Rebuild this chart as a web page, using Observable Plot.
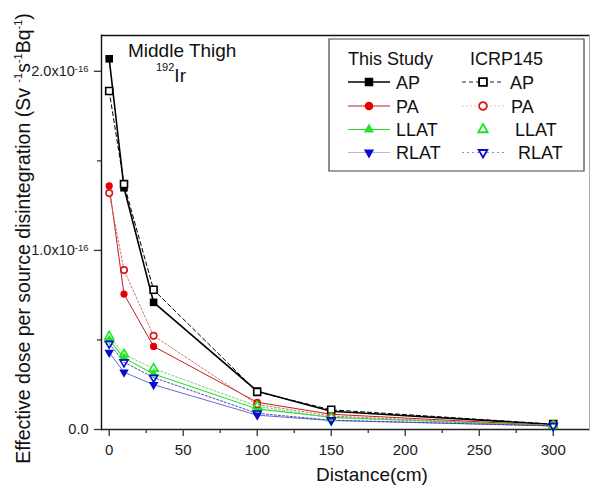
<!DOCTYPE html>
<html>
<head>
<meta charset="utf-8">
<script src="https://cdn.jsdelivr.net/npm/d3@7"></script>
<script src="https://cdn.jsdelivr.net/npm/@observablehq/plot@0.6"></script>
<style>
  html, body { margin: 0; padding: 0; background: white; }
  #wrap { position: relative; width: 590px; height: 486px; }
</style>
</head>
<body>
<div id="wrap"></div>
<script>
// ---- data (values in units of 1e-16 Sv per source disintegration) ----
const distances = [0, 10, 30, 100, 150, 300];
const apStudy   = [2.07, 1.35, 0.71, 0.214, 0.102, 0.028];
const apIcrp    = [1.89, 1.37, 0.78, 0.21, 0.11, 0.03];
const paStudy   = [1.36, 0.756, 0.464, 0.152, 0.085, 0.022];
const paIcrp    = [1.32, 0.89, 0.523, 0.14, 0.075, 0.02];
const llatStudy = [0.50, 0.40, 0.31, 0.115, 0.068, 0.02];
const llatIcrp  = [0.52, 0.42, 0.34, 0.13, 0.065, 0.022];
const rlatStudy = [0.43, 0.32, 0.25, 0.08, 0.05, 0.02];
const rlatIcrp  = [0.48, 0.376, 0.29, 0.09, 0.052, 0.02];
const unit = 1e-16;

const xMajorTicks = [0, 50, 100, 150, 200, 250, 300];
const xMinorTicks = [25, 75, 125, 175, 225, 275];
const yMajorTicks = [0, 1.0, 2.0];
const yMinorTicks = [0.5, 1.5];

const seriesNames = ["AP", "PA", "LLAT", "RLAT"];
const sourceNames = ["This Study", "ICRP145"];
const xLabel = "Distance(cm)";
const yLabelParts = ["Effective dose per source disintegration (Sv ", "^-1", "s", "^-1", "Bq", "^-1", ")"];
const annotation1 = "Middle Thigh";
const annotation2 = ["^192", "Ir"];

const FONT = "'Liberation Sans', Arial, sans-serif";

// ---- symbols ----
const triUp = { draw(ctx, size) { const s = Math.sqrt(size * 4 / Math.sqrt(3)), h = s * Math.sqrt(3) / 2;
  ctx.moveTo(0, -2 * h / 3); ctx.lineTo(s / 2, h / 3); ctx.lineTo(-s / 2, h / 3); ctx.closePath(); } };
const triDown = { draw(ctx, size) { const s = Math.sqrt(size * 4 / Math.sqrt(3)), h = s * Math.sqrt(3) / 2;
  ctx.moveTo(0, 2 * h / 3); ctx.lineTo(s / 2, -h / 3); ctx.lineTo(-s / 2, -h / 3); ctx.closePath(); } };

// ---- styles ----
const rSquare = 7.6 / Math.sqrt(Math.PI);
const rCircle = 3.6;
const rTri = Math.sqrt((Math.sqrt(3) / 4 * 9.5 * 9.5) / Math.PI);
const series = [
  {name: "AP",   src: 0, values: apStudy,   symbol: "square", r: rSquare, color: "#000", open: false,
   line: {stroke: "#000", strokeWidth: 1.6}},
  {name: "PA",   src: 0, values: paStudy,   symbol: "circle", r: rCircle, color: "#e60000", open: false,
   line: {stroke: "#c02020", strokeWidth: 1}},
  {name: "LLAT", src: 0, values: llatStudy, symbol: triUp, r: rTri, color: "#1ee61e", open: false,
   line: {stroke: "#2ed82e", strokeWidth: 1.1}},
  {name: "RLAT", src: 0, values: rlatStudy, symbol: triDown, r: rTri, color: "#0a0ad0", open: false,
   line: {stroke: "#5a5ad0", strokeWidth: 0.9}},
  {name: "AP",   src: 1, values: apIcrp,    symbol: "square", r: rSquare * 0.92, color: "#000", open: true,
   line: {stroke: "#000", strokeWidth: 1, strokeDasharray: "4,3"}},
  {name: "PA",   src: 1, values: paIcrp,    symbol: "circle", r: rCircle * 0.9, color: "#d81818", open: true,
   line: {stroke: "#d06060", strokeWidth: 0.9, strokeDasharray: "2,2"}},
  {name: "LLAT", src: 1, values: llatIcrp,  symbol: triUp, r: rTri * 0.92, color: "#1ee61e", open: true,
   line: {stroke: "#60d060", strokeWidth: 0.9, strokeDasharray: "2,2"}},
  {name: "RLAT", src: 1, values: rlatIcrp,  symbol: triDown, r: rTri * 0.85, color: "#0a0ad0", open: true,
   line: {stroke: "#3030b0", strokeWidth: 0.9, strokeDasharray: "2,2"}}
];
const legendLine = [
  [{stroke: "#000", strokeWidth: 1.6}, {stroke: "#222", strokeWidth: 1, strokeDasharray: "4,3"}],
  [{stroke: "#c02020", strokeWidth: 1}, {stroke: "#f0c0c0", strokeWidth: 1, strokeDasharray: "2,2"}],
  [{stroke: "#2ed82e", strokeWidth: 1}, null],
  [{stroke: "#b8b8d8", strokeWidth: 1}, {stroke: "#9090c8", strokeWidth: 1, strokeDasharray: "2,3"}]
];

const rows = s => distances.map((d, i) => ({x: d, y: s.values[i] * unit}));

const marks = [];
for (const s of series) {
  marks.push(Plot.line(rows(s), {x: "x", y: "y", ...s.line}));
}
for (const s of series) {
  marks.push(Plot.dot(rows(s), {
    x: "x", y: "y", symbol: s.symbol, r: s.r,
    fill: s.open ? (s.symbol === "square" || s.symbol === "circle" ? "white" : "none") : s.color,
    stroke: s.open ? s.color : "none",
    strokeWidth: s.open ? 1.6 : 0
  }));
}

const supFmt = v => v === 0 ? "0.0" : `${v.toFixed(1)}x10|-16`;

const chart = Plot.plot({
  width: 590, height: 486,
  marginLeft: 101, marginRight: 1, marginTop: 35, marginBottom: 57,
  x: {domain: [-5.2, 324.5]},
  y: {domain: [0, 2.2e-16]},
  style: {fontFamily: FONT, fontSize: "14.5px", color: "#222", background: "white", overflow: "visible"},
  marks: [
    Plot.frame({anchor: "top", stroke: "#111", strokeWidth: 1.4}),
    Plot.frame({anchor: "bottom", stroke: "#222", strokeWidth: 1.6}),
    Plot.frame({anchor: "left", stroke: "#111", strokeWidth: 1.4}),
    Plot.frame({anchor: "right", stroke: "#aaa", strokeWidth: 1}),
    Plot.axisX(xMajorTicks, {tickSize: 7, tickPadding: 8, label: null, fontSize: 15, stroke: "#333", strokeWidth: 1.3}),
    Plot.axisX(xMinorTicks, {tickSize: 4, tickFormat: () => "", label: null, stroke: "#333", strokeWidth: 1.3}),
    Plot.axisY(yMajorTicks.map(v => v * unit), {tickSize: 7, tickPadding: 6, label: null, fontSize: 14.5,
      tickFormat: v => supFmt(v / unit), stroke: "#333", strokeWidth: 1.3}),
    Plot.axisY(yMinorTicks.map(v => v * unit), {tickSize: 4, tickFormat: () => "", label: null, stroke: "#333", strokeWidth: 1.3}),
    ...marks
  ]
});
document.getElementById("wrap").appendChild(chart);

const svg = d3.select(chart);

// superscripts on y tick labels
svg.selectAll("text").each(function() {
  const t = d3.select(this);
  const txt = this.textContent;
  if (txt.includes("|")) {
    const [a, b] = txt.split("|");
    t.text(null);
    t.append("tspan").style("font-size", "14.5px").text(a);
    t.append("tspan").attr("dy", "-0.45em").style("font-size", "9.5px").text(b);
  } else if (txt === "0.0") {
    t.style("font-size", "14.5px");
  }
});

function richText(sel, parts, bigSize, supSize, shift) {
  let raised = false;
  for (const p of parts) {
    const sup = p.startsWith("^");
    const tsp = sel.append("tspan").text(sup ? p.slice(1) : p).style("font-size", (sup ? supSize : bigSize) + "px");
    if (sup && !raised) { tsp.attr("dy", -shift); raised = true; }
    else if (!sup && raised) { tsp.attr("dy", shift); raised = false; }
  }
}

// y label
const yl = svg.append("text")
  .attr("transform", "translate(30,238.5) rotate(-90)")
  .attr("text-anchor", "middle").attr("fill", "#111")
  .style("font-family", FONT);
richText(yl, yLabelParts, 19.5, 11, 8);

// x label
svg.append("text").attr("x", 372).attr("y", 481).attr("text-anchor", "middle").attr("fill", "#111")
  .style("font-size", "19px").style("font-family", FONT).text(xLabel);

// annotations
svg.append("text").attr("x", 128).attr("y", 57).attr("text-anchor", "start").attr("fill", "#111")
  .style("font-size", "19px").style("font-family", FONT).text(annotation1);
const an2 = svg.append("text").attr("x", 156).attr("y", 82).attr("text-anchor", "start").attr("fill", "#111")
  .style("font-family", FONT);
richText(an2, annotation2, 19, 11, 11);

// legend
const lg = svg.append("g").attr("text-anchor", "start").style("font-family", FONT);
lg.append("path").attr("d", "M329,39H584V171H329Z")
  .attr("fill", "white").attr("stroke", "#444").attr("stroke-width", 1.2);
lg.append("text").attr("x", 348).attr("y", 65).attr("fill", "#111").style("font-size", "18px").text(sourceNames[0]);
lg.append("text").attr("x", 470).attr("y", 65).attr("fill", "#111").style("font-size", "18px").text(sourceNames[1]);
const rowY = [82, 106, 129.5, 152.5];
const colX = [{x0: 348, x1: 390, m: 369, tx: [396, 396, 396, 396]}, {x0: 462, x1: 504, m: 483, tx: [510, 511, 515, 518]}];
seriesNames.forEach((name, i) => {
  [0, 1].forEach(src => {
    const s = series.find(d => d.name === name && d.src === src);
    const c = colX[src];
    const ls = legendLine[i][src];
    if (ls) {
      lg.append("line").attr("x1", c.x0).attr("x2", c.x1).attr("y1", rowY[i]).attr("y2", rowY[i])
        .attr("stroke", ls.stroke).attr("stroke-width", ls.strokeWidth).attr("stroke-dasharray", ls.strokeDasharray || null);
    }
    const symType = s.symbol === "square" ? d3.symbolSquare : s.symbol === "circle" ? d3.symbolCircle : s.symbol;
    const scale = s.symbol === "square" ? 1.12 : s.symbol === "circle" ? 1.2 : 1.08;
    const rr = s.r * scale;
    lg.append("path").attr("transform", `translate(${c.m},${rowY[i]})`)
      .attr("d", d3.symbol(symType, Math.PI * rr * rr)())
      .attr("fill", s.open ? "white" : s.color)
      .attr("stroke", s.open ? s.color : "none").attr("stroke-width", s.open ? 1.8 : 0);
    lg.append("text").attr("x", c.tx[i]).attr("y", rowY[i] + 6.5).attr("fill", "#111").style("font-size", "18px").text(name);
  });
});
</script>
</body>
</html>
